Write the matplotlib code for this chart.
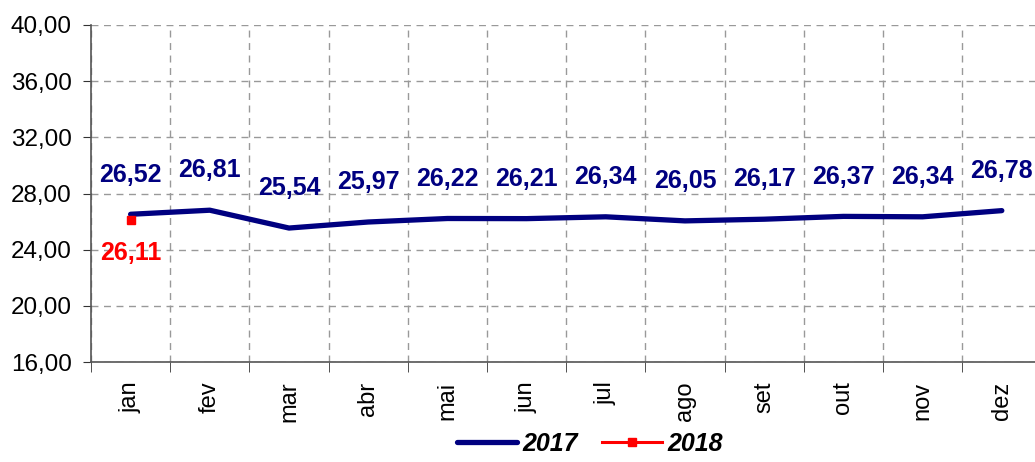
#!/usr/bin/env python

import matplotlib
matplotlib.use("Agg")
import matplotlib.pyplot as plt
from matplotlib.ticker import FixedLocator, FuncFormatter

months = ["jan", "fev", "mar", "abr", "mai", "jun",
          "jul", "ago", "set", "out", "nov", "dez"]
vals_2017 = [26.52, 26.81, 25.54, 25.97, 26.22, 26.21,
             26.34, 26.05, 26.17, 26.37, 26.34, 26.78]
vals_2018 = [26.11]
yticks = [16, 20, 24, 28, 32, 36, 40]


def br(v):
    return f"{v:.2f}".replace(".", ",")


def main():
    plt.rcParams['font.family'] = ['Liberation Sans', 'DejaVu Sans']

    fig = plt.figure(figsize=(10.35, 4.62), dpi=100)
    ax = fig.add_axes([91 / 1035, 1 - 362 / 462, 1 - 91 / 1035, 337 / 462])

    x17 = list(range(len(vals_2017)))
    x18 = list(range(len(vals_2018)))

    ax.plot(x17, vals_2017, color='#000080', lw=3.8, solid_capstyle='round',
            label='2017', zorder=3)
    ax.plot(x18, vals_2018, color='#ff0000', lw=2.2, marker='s', ms=6,
            label='2018', zorder=4)

    for x, v in zip(x17, vals_2017):
        ax.annotate(br(v), (x, v), xytext=(0, 20), textcoords='offset points',
                    ha='center', va='bottom', color='#000080',
                    fontsize=18, fontweight='bold')
    for x, v in zip(x18, vals_2018):
        ax.annotate(br(v), (x, v), xytext=(0, -15), textcoords='offset points',
                    ha='center', va='top', color='#ff0000',
                    fontsize=18, fontweight='bold')

    ax.set_ylim(16, 40)
    ax.set_xlim(-0.5, (1035 - 91) / 79.2 - 0.5)
    ax.set_yticks(yticks)
    ax.yaxis.set_major_formatter(FuncFormatter(lambda v, p: br(v)))
    ax.set_xticks(x17)
    ax.set_xticklabels(months, rotation=90)
    ax.xaxis.set_minor_locator(FixedLocator([i - 0.5 for i in range(13)]))
    ax.tick_params(axis='x', which='major', length=0, pad=14, labelsize=17)
    ax.tick_params(axis='x', which='minor', length=7, color='#333333')
    ax.tick_params(axis='y', length=6, pad=8, labelsize=17.5, color='#333333')

    ax.grid(True, axis='y', which='major', ls=(0, (5, 4)), color='#999999', lw=1)
    ax.grid(True, axis='x', which='minor', ls=(0, (5, 4)), color='#999999', lw=1)

    for s in ['top', 'right']:
        ax.spines[s].set_visible(False)
    for s in ['left', 'bottom']:
        ax.spines[s].set_color('#555555')
        ax.spines[s].set_linewidth(1.2)

    fig.legend(loc='lower center', bbox_to_anchor=(0.57, -0.035), ncol=2,
               frameon=False, handlelength=2.4, columnspacing=1.0,
               handletextpad=0.2,
               prop={'weight': 'bold', 'style': 'italic', 'size': 18})

    fig.savefig("out.png", dpi=100)


if __name__ == '__main__':
    main()
